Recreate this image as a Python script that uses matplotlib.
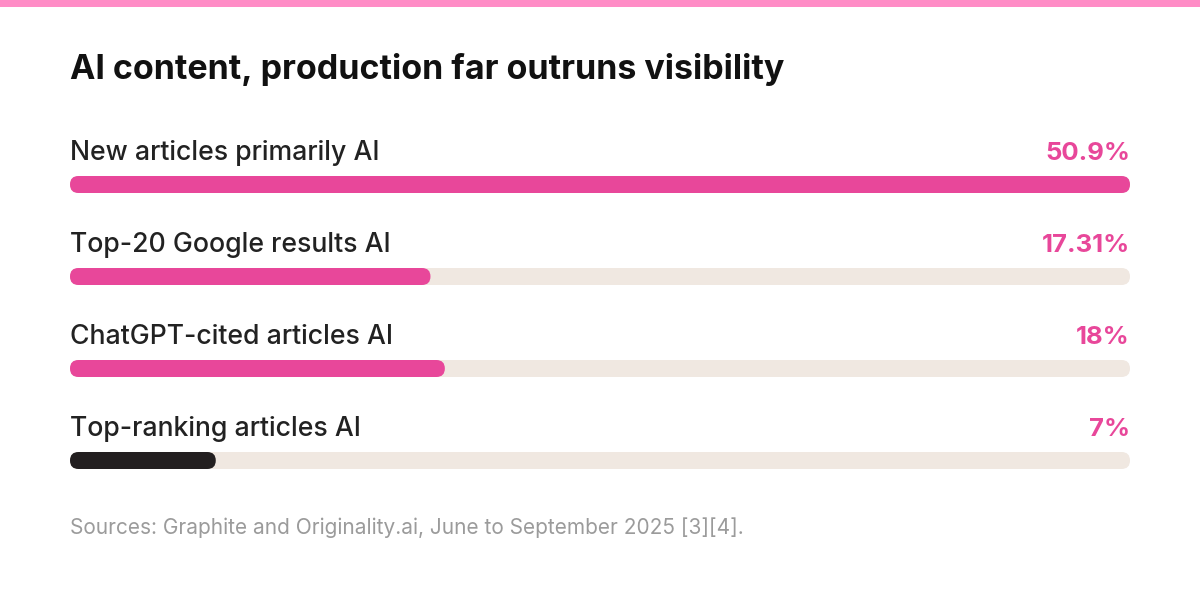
import matplotlib
matplotlib.use("Agg")
import matplotlib.pyplot as plt
from matplotlib.patches import FancyBboxPatch, Rectangle

# data
labels = ["New articles primarily AI", "Top-20 Google results AI",
          "ChatGPT-cited articles AI", "Top-ranking articles AI"]
values = [50.9, 17.31, 18, 7]
value_text = ["50.9%", "17.31%", "18%", "7%"]
bar_colors = ["#E8479A", "#E8479A", "#E8479A", "#231F20"]
scale_max = 50.9

title = "AI content, production far outruns visibility"
source = "Sources: Graphite and Originality.ai, June to September 2025 [3][4]."

W, H = 1200, 609
plt.rcParams['font.family'] = ['Inter', 'DejaVu Sans']

fig = plt.figure(figsize=(W / 100, H / 100), dpi=100)
fig.patch.set_facecolor("white")

# pink band at the top
fig.patches.append(Rectangle((0, 1 - 7 / H), 1, 7 / H, transform=fig.transFigure,
                             facecolor="#FF8CC6", edgecolor="none"))

fig.text(70 / W, 1 - 79 / H, title, fontsize=24.5, fontweight="bold",
         color="#111111", ha="left", va="baseline")

# bar axes: x from 70 to 1130 px, rows every 92 px starting at 184.5 px
left, right = 70, 1130
ax = fig.add_axes([left / W, 0, (right - left) / W, 1])
row0, step = 184.5, 92.0
ax.set_xlim(0, scale_max)
ax.set_ylim((H - row0) / step, -row0 / step)
ax.axis("off")

bar_h = 17 / step
xpp = scale_max / (right - left)      # x data per pixel
ypp = 1 / step                         # y data per pixel
r = 8.5 * xpp
aspect = ypp / xpp

for i, (lab, v, vt, c) in enumerate(zip(labels, values, value_text, bar_colors)):
    track = FancyBboxPatch((0, i - bar_h / 2), scale_max, bar_h,
                           boxstyle=f"round,pad=0,rounding_size={r}",
                           mutation_aspect=aspect, facecolor="#F0E8E1",
                           edgecolor="none")
    ax.add_patch(track)
    bar = FancyBboxPatch((0, i - bar_h / 2), v, bar_h,
                         boxstyle=f"round,pad=0,rounding_size={r}",
                         mutation_aspect=aspect, facecolor=c, edgecolor="none")
    ax.add_patch(bar)
    ax.text(0, i - 24.5 / step, lab, fontsize=19.2, fontweight="medium",
            color="#222222", ha="left", va="baseline")
    ax.text(scale_max, i - 24.5 / step, vt, fontsize=18.5, fontweight="bold",
            color="#E8479A", ha="right", va="baseline")

fig.text(70 / W, 1 - 534 / H, source, fontsize=15, color="#9B9B9B",
         ha="left", va="baseline")

fig.savefig("out.png", dpi=100, facecolor="white")
